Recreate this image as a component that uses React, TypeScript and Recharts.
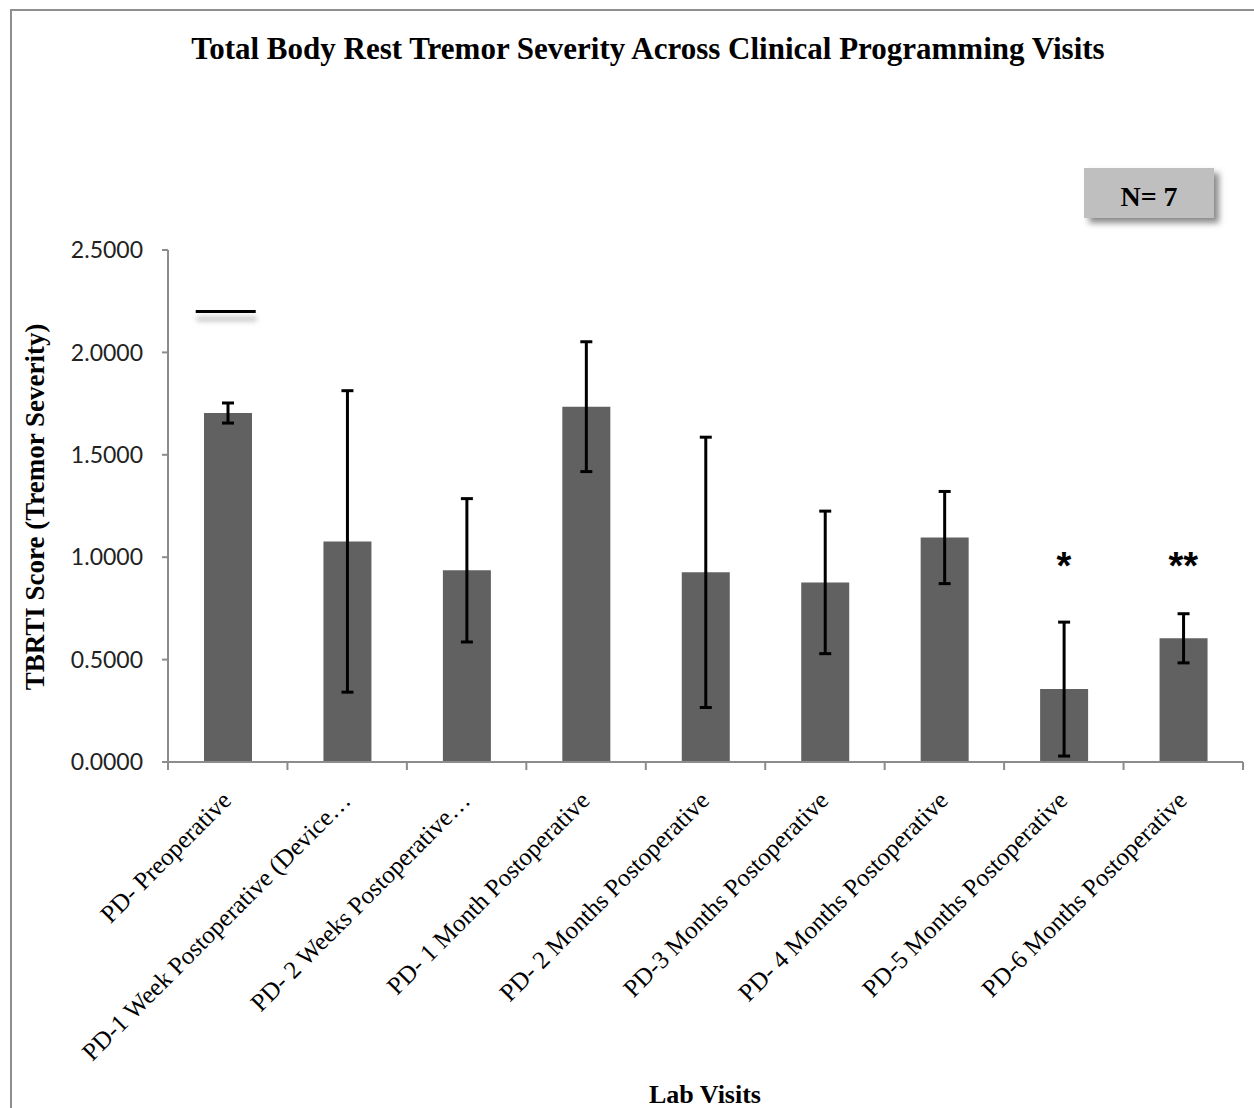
import React from "react";
import {
  ComposedChart,
  Bar,
  Line,
  XAxis,
  YAxis,
  ErrorBar,
} from "recharts";

const visits = [
  "PD- Preoperative",
  "PD-1 Week Postoperative (Device…",
  "PD- 2 Weeks Postoperative…",
  "PD- 1 Month Postoperative",
  "PD- 2 Months Postoperative",
  "PD-3 Months Postoperative",
  "PD- 4 Months Postoperative",
  "PD-5 Months Postoperative",
  "PD-6 Months Postoperative",
];
const meanScores = [1.704, 1.077, 0.936, 1.735, 0.926, 0.877, 1.096, 0.356, 0.604];
const errScores = [0.049, 0.736, 0.35, 0.317, 0.66, 0.348, 0.225, 0.327, 0.12];
// annotation marks drawn above bars (line over first bar, significance stars)
const markValues = [2.2, null, null, null, null, null, null, 1.0, 1.0];
const markLabels = ["line", "", "", "", "", "", "", "*", "**"];
const yTicks = [0, 0.5, 1, 1.5, 2, 2.5];

const data = visits.map((name, i) => ({
  name,
  score: meanScores[i],
  err: errScores[i],
  mark: markValues[i],
  label: markLabels[i],
}));

const serif = "'Liberation Serif', 'Times New Roman', serif";
const axisGray = "#8c8c8c";
const CHART_W = 1254;
const MARGIN = { top: 250, right: 11, bottom: 96, left: 0 };
const Y_AXIS_W = 168;

// Excel-style category axis: tick marks sit on the band edges, labels at centres
const VisitTick = ({ x, y, payload, index }: any) => {
  const half =
    payload && payload.offset
      ? payload.offset
      : (CHART_W - MARGIN.left - MARGIN.right - Y_AXIS_W) / visits.length / 2;
  return (
    <g>
      <line x1={x - half} y1={y} x2={x - half} y2={y + 8} stroke={axisGray} strokeWidth={2} />
      {index === visits.length - 1 && (
        <line x1={x + half} y1={y} x2={x + half} y2={y + 8} stroke={axisGray} strokeWidth={2} />
      )}
      <text
        transform={`translate(${x + 5}, ${y + 40}) rotate(-45)`}
        textAnchor="end"
        fontFamily={serif}
        fontSize={25}
        fill="#000"
      >
        {payload.value}
      </text>
    </g>
  );
};

const MarkDot = ({ cx, cy, payload }: any) => {
  if (cy == null || payload.mark == null) return <g />;
  if (payload.label === "line") {
    return (
      <g>
        <rect
          x={cx - 31}
          y={cy + 5}
          width={60}
          height={5}
          fill="#c8c8c8"
          filter="url(#softBlur)"
        />
        <line x1={cx - 32} y1={cy} x2={cx + 28} y2={cy} stroke="#000" strokeWidth={3} />
      </g>
    );
  }
  return (
    <text
      x={cx}
      y={cy + 22}
      textAnchor="middle"
      fontFamily="'Liberation Sans', Arial, sans-serif"
      fontWeight="bold"
      fontSize={38}
      fill="#000"
    >
      {payload.label}
    </text>
  );
};

export default function App() {
  return (
    <div style={{ position: "fixed", left: 0, top: 0, width: 1254, height: 1108, background: "#fff" }}>
      <ComposedChart width={CHART_W} height={1108} data={data} margin={MARGIN}>
        <defs>
          <filter id="softBlur" x="-20%" y="-200%" width="140%" height="500%">
            <feGaussianBlur stdDeviation="2.5" />
          </filter>
        </defs>
        <XAxis
          dataKey="name"
          interval={0}
          height={250}
          axisLine={{ stroke: axisGray, strokeWidth: 2 }}
          tickLine={false}
          tickSize={0}
          tickMargin={0}
          tick={<VisitTick />}
        />
        <YAxis
          width={Y_AXIS_W}
          domain={[0, 2.5]}
          ticks={yTicks}
          tickFormatter={(v: number) => v.toFixed(4)}
          tickSize={6}
          tickMargin={19}
          axisLine={{ stroke: axisGray, strokeWidth: 2 }}
          tickLine={{ stroke: axisGray, strokeWidth: 2 }}
          tick={{ fontFamily: "Lato, 'Open Sans', sans-serif", fontSize: 23, fill: "#222" }}
        />
        <Bar dataKey="score" fill="#616161" barSize={48} isAnimationActive={false}>
          <ErrorBar dataKey="err" width={6} stroke="#000" strokeWidth={3} />
        </Bar>
        <Line
          dataKey="mark"
          stroke="none"
          connectNulls={false}
          dot={<MarkDot />}
          activeDot={false}
          isAnimationActive={false}
        />
      </ComposedChart>

      <svg
        width={1254}
        height={1108}
        style={{ position: "absolute", left: 0, top: 0, pointerEvents: "none" }}
      >
        <defs>
          <filter id="boxShadow" x="-20%" y="-40%" width="150%" height="200%">
            <feGaussianBlur stdDeviation="3" />
          </filter>
        </defs>
        <line x1={10} y1={10} x2={1254} y2={10} stroke="#8f8f8f" strokeWidth={2} />
        <line x1={11} y1={9} x2={11} y2={1108} stroke="#8f8f8f" strokeWidth={2} />
        <text
          x={648}
          y={59}
          textAnchor="middle"
          fontFamily={serif}
          fontWeight="bold"
          fontSize={31}
          fill="#000"
        >
          Total Body Rest Tremor Severity Across Clinical Programming Visits
        </text>
        <rect x={1089} y={173} width={130} height={50} fill="#8a8a8a" filter="url(#boxShadow)" />
        <rect x={1084} y={168} width={130} height={50} fill="#bfbfbf" />
        <text
          x={1149}
          y={206}
          textAnchor="middle"
          fontFamily={serif}
          fontWeight="bold"
          fontSize={28}
          fill="#000"
        >
          N= 7
        </text>
        <text
          transform="translate(44, 507) rotate(-90)"
          textAnchor="middle"
          fontFamily={serif}
          fontWeight="bold"
          fontSize={27}
          fill="#000"
        >
          TBRTI Score (Tremor Severity)
        </text>
        <text
          x={705}
          y={1103}
          textAnchor="middle"
          fontFamily={serif}
          fontWeight="bold"
          fontSize={26}
          fill="#000"
        >
          Lab Visits
        </text>
      </svg>
    </div>
  );
}
